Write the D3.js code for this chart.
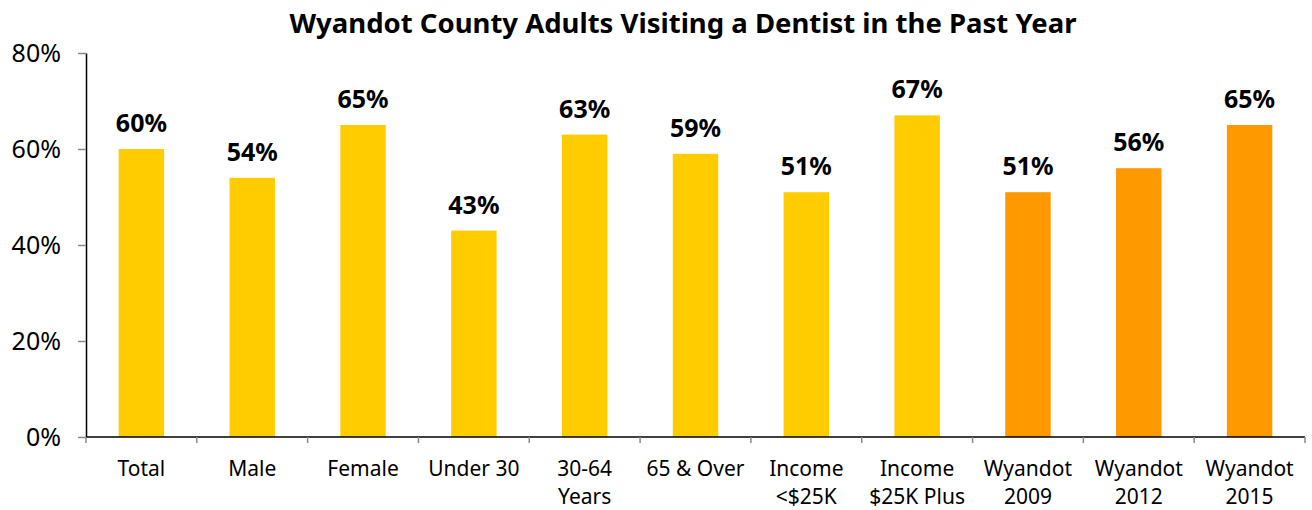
<!DOCTYPE html>
<html><head><meta charset="utf-8">
<script src="https://cdn.jsdelivr.net/npm/d3@7"></script>
<style>body{margin:0;background:#fff;} svg{display:block;}</style>
</head><body>
<svg id="c" width="1312" height="510"></svg>
<script>
const categories = [["Total"],["Male"],["Female"],["Under 30"],["30-64","Years"],["65 & Over"],["Income","<$25K"],["Income","$25K Plus"],["Wyandot","2009"],["Wyandot","2012"],["Wyandot","2015"]];
const values = [60,54,65,43,63,59,51,67,51,56,65];
const barColors = ["#FFCC00","#FFCC00","#FFCC00","#FFCC00","#FFCC00","#FFCC00","#FFCC00","#FFCC00","#FF9900","#FF9900","#FF9900"];
const yTicks = [0,20,40,60,80];
const title = "Wyandot County Adults Visiting a Dentist in the Past Year";

const font = "'Noto Sans', 'Open Sans', sans-serif";
const svg = d3.select("#c");
const m = {left:86, right:1305, top:53, bottom:437};
const idx = d3.range(categories.length);
const x = d3.scaleBand().domain(idx).range([m.left, m.right]).paddingInner(0.59).paddingOuter(0.295);
const step = x.step();
const y = d3.scaleLinear().domain([0,80]).range([m.bottom, m.top]);

svg.append("text").attr("x", 683).attr("y", 33).attr("text-anchor","middle")
  .attr("font-family", font).attr("font-weight","bold").attr("font-size", 27.5).attr("fill","#000").text(title);

// bars
svg.selectAll("rect.bar").data(idx).join("rect").attr("class","bar")
  .attr("x", i => x(i)).attr("width", x.bandwidth())
  .attr("y", i => y(values[i])).attr("height", i => y(0) - y(values[i]))
  .attr("fill", i => barColors[i]);

// value labels
svg.selectAll("text.val").data(idx).join("text").attr("class","val")
  .attr("x", i => x(i) + x.bandwidth()/2).attr("y", i => y(values[i]) - 17)
  .attr("text-anchor","middle").attr("font-family", font).attr("font-weight","bold")
  .attr("font-size", 25).attr("fill","#000").text(i => values[i] + "%");

// y axis
const yAxis = d3.axisLeft(y).tickValues(yTicks).tickFormat(d => d + "%").tickSize(8).tickSizeOuter(0);
const gy = svg.append("g").attr("transform", `translate(${m.left},0)`).call(yAxis);
gy.select(".domain").attr("stroke","#000").attr("stroke-width",1.5);
gy.selectAll(".tick line").attr("stroke","#888").attr("stroke-width",1.5);
gy.selectAll(".tick text").attr("font-family", font).attr("font-size", 25).attr("fill","#000").attr("x",-25).attr("dy","0.35em");

// x axis line
svg.append("line").attr("x1", m.left).attr("x2", m.right).attr("y1", m.bottom).attr("y2", m.bottom)
  .attr("stroke","#000").attr("stroke-width",1.5);
// boundary ticks
const bounds = d3.range(categories.length + 1);
svg.selectAll("line.xt").data(bounds).join("line").attr("class","xt")
  .attr("x1", b => m.left + b*step).attr("x2", b => m.left + b*step)
  .attr("y1", m.bottom).attr("y2", m.bottom + 6).attr("stroke","#888").attr("stroke-width",1.5);

// x labels (one text per line)
const lines = [];
idx.forEach(i => categories[i].forEach((s,k) => lines.push({i, k, s})));
svg.selectAll("text.xl").data(lines).join("text").attr("class","xl")
  .attr("x", d => x(d.i) + x.bandwidth()/2).attr("y", d => 475.5 + d.k*28.5)
  .attr("text-anchor","middle").attr("font-family", font).attr("font-size", 21)
  .attr("fill","#000").text(d => d.s);
</script>
</body></html>
